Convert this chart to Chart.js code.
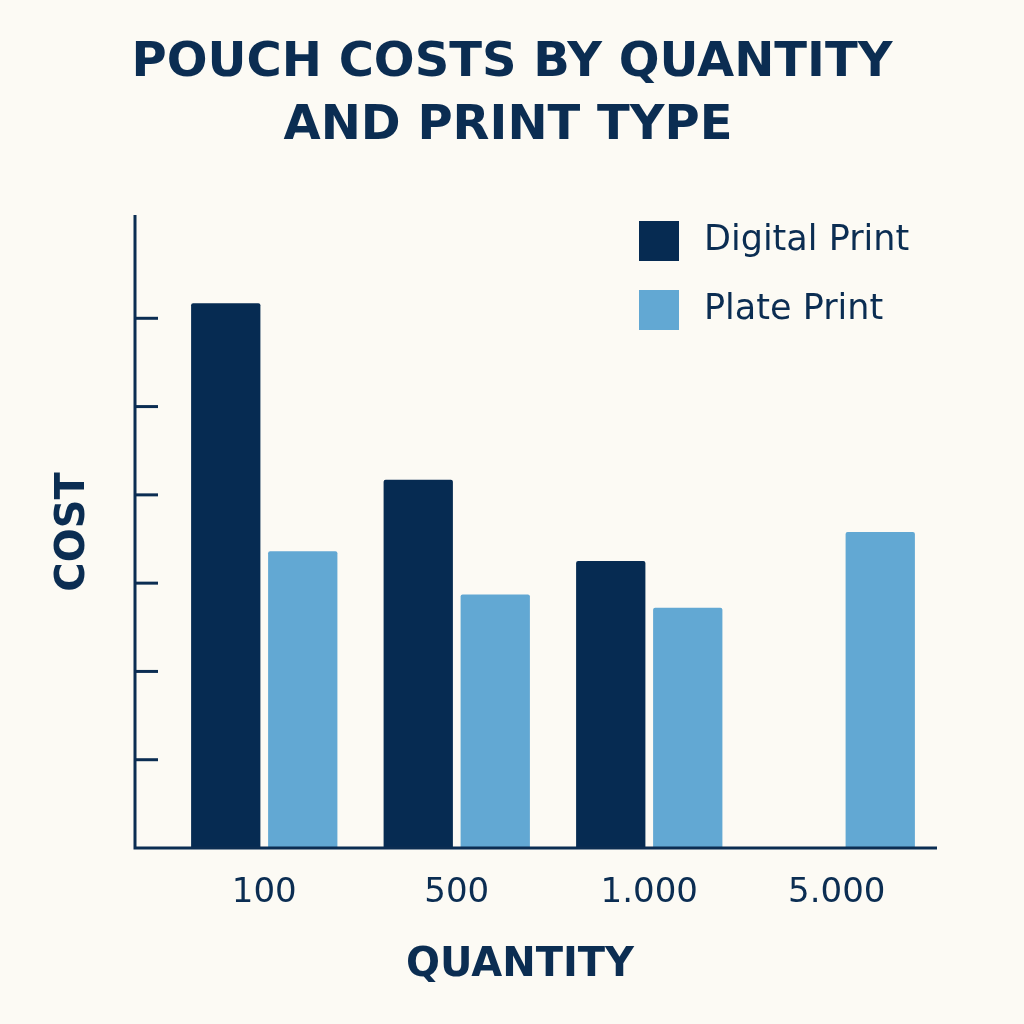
<!DOCTYPE html>
<html>
<head>
<meta charset="utf-8">
<script src="https://cdn.jsdelivr.net/npm/chart.js@4/dist/chart.umd.min.js"></script>
<style>
  html, body { margin: 0; padding: 0; background: #fcfaf4; }
  #wrap { width: 1024px; height: 1024px; }
</style>
</head>
<body>
<div id="wrap"><canvas id="chart" width="1024" height="1024"></canvas></div>
<script>
const quantities = ["100", "500", "1.000", "5.000"];
const digitalPrint = [6.17, 4.17, 3.25, null];
const platePrint = [3.36, 2.87, 2.72, 3.58];
const yTicks = [1, 2, 3, 4, 5, 6];

const ink = "#0b2d52";
const font = "'DejaVu Sans', sans-serif";

// axes, ticks, titles and legend drawn by hand to match the reference look
const decor = {
  id: "decor",
  beforeDraw(chart) {
    const c = chart.ctx;
    c.save();
    c.fillStyle = "#fcfaf4";
    c.fillRect(0, 0, chart.width, chart.height);
    c.restore();
  },
  afterDraw(chart) {
    const c = chart.ctx;
    const x = chart.scales.x, y = chart.scales.y;
    const base = y.getPixelForValue(0);
    c.save();
    c.strokeStyle = ink;
    c.lineWidth = 3;
    c.beginPath();
    c.moveTo(135, 215);
    c.lineTo(135, base);
    c.lineTo(937, base);
    c.stroke();
    yTicks.forEach(v => {
      const py = y.getPixelForValue(v);
      c.beginPath();
      c.moveTo(135, py);
      c.lineTo(158, py);
      c.stroke();
    });

    c.fillStyle = ink;
    c.textAlign = "center";
    c.textBaseline = "middle";
    c.font = "34px " + font;
    quantities.forEach((q, i) => c.fillText(q, x.getPixelForValue(i) - (i === 3 ? 5 : 0), 893));

    c.font = "bold 40px " + font;
    c.fillText("QUANTITY", 520, 966);
    c.font = "bold 48px " + font;
    c.fillText("POUCH COSTS BY QUANTITY", 512, 64);
    c.fillText("AND PRINT TYPE", 508, 127);

    c.save();
    c.translate(74, 532);
    c.rotate(-Math.PI / 2);
    c.font = "bold 40px " + font;
    c.fillText("COST", 0, 0);
    c.restore();

    c.textAlign = "left";
    c.font = "35px " + font;
    chart.data.datasets.forEach((ds, i) => {
      const ly = 241 + i * 69;
      c.fillStyle = ds.backgroundColor;
      c.fillRect(639, ly - 20, 40, 40);
      c.fillStyle = ink;
      c.fillText(ds.label, 704, ly);
    });
    c.restore();
  }
};

new Chart(document.getElementById("chart"), {
  type: "bar",
  data: {
    labels: quantities,
    datasets: [
      { label: "Digital Print", data: digitalPrint, backgroundColor: "#062b52", borderRadius: 2 },
      { label: "Plate Print", data: platePrint, backgroundColor: "#62a8d3", borderRadius: 2 }
    ]
  },
  options: {
    responsive: false,
    animation: false,
    layout: { padding: { left: 168, right: 86, top: 215, bottom: 176 } },
    scales: {
      x: { display: false, categoryPercentage: 0.7, barPercentage: 0.92 },
      y: { display: false, min: 0, max: 7.17 }
    },
    plugins: { legend: { display: false }, tooltip: { enabled: false } }
  },
  plugins: [decor]
});
</script>
</body>
</html>
